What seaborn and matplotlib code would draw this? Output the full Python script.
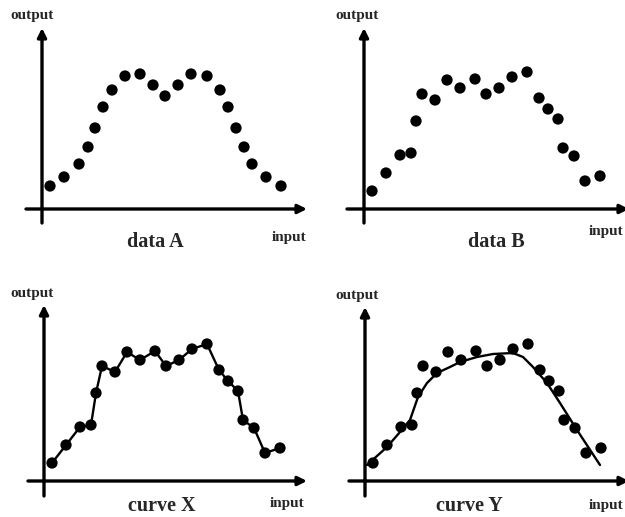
import matplotlib
matplotlib.use("Agg")
import matplotlib.pyplot as plt
import seaborn as sns

# input / output values (axis units = pixels from origin)
input_a = [8, 22, 37, 46, 53, 61, 70, 83, 98, 111, 123, 136, 149, 165, 178, 186, 194, 202, 210, 224, 239]
output_a = [23, 32, 45, 62, 81, 102, 119, 133, 135, 124, 113, 124, 135, 133, 119, 102, 81, 62, 45, 32, 23]

input_b = [8, 22, 36, 47, 52, 58, 71, 83, 96, 111, 122, 135, 148, 163, 175, 184, 194, 199, 210, 221, 236]
output_b = [18, 36, 54, 56, 88, 115, 109, 129, 121, 130, 115, 121, 132, 137, 111, 100, 90, 61, 53, 28, 33]

# smooth fit drawn in "curve Y"
fit_input = [2, 22, 35, 45, 53, 62, 72, 85, 95, 112, 128, 148, 158, 168, 182, 195, 212, 235]
fit_output = [16, 34, 49, 61, 84, 98, 108, 114, 119, 124, 127, 128, 124, 114, 98, 78, 51, 16]

titles = ["data A", "data B", "curve X", "curve Y"]

W, H = 625, 517
FONT = "Liberation Serif"

sns.set_theme(style="white")
plt.rcParams["font.family"] = [FONT, "DejaVu Serif"]

fig = plt.figure(figsize=(W / 100, H / 100), dpi=100)


def make_panel(ox, oy, xl, xr, yt, yb):
    # axes box in figure pixels, data units = pixels from the origin
    ax = fig.add_axes([xl / W, 1 - yb / H, (xr - xl) / W, (yb - yt) / H])
    ax.set_xlim(xl - ox, xr - ox)
    ax.set_ylim(oy - yb, oy - yt)
    arrow = dict(arrowstyle="-|>", lw=2.4, color="black", mutation_scale=13,
                 shrinkA=0, shrinkB=0)
    ax.annotate("", xy=(xr - ox, 0), xytext=(xl - ox, 0), arrowprops=arrow,
                annotation_clip=False)
    ax.annotate("", xy=(0, oy - yt), xytext=(0, oy - yb), arrowprops=arrow,
                annotation_clip=False)
    return ax


def label(x, y, s, size, weight="bold", ha="center"):
    fig.text(x / W, 1 - y / H, s, fontsize=size, fontweight=weight,
             ha=ha, va="center", family=[FONT, "DejaVu Serif"])


dot = dict(color="black", s=66, edgecolor="none", zorder=3)

# data A
ax = make_panel(42, 209, 26, 307, 28, 223)
sns.scatterplot(x=input_a, y=output_a, ax=ax, **dot)
ax.set_axis_off()

# data B
ax = make_panel(364, 209, 347, 629, 28, 223)
sns.scatterplot(x=input_b, y=output_b, ax=ax, **dot)
ax.set_axis_off()

# curve X: join the dots
ax = make_panel(44, 481, 28, 307, 305, 496)
sns.lineplot(x=input_b, y=output_b, ax=ax, sort=False, color="black", lw=1.7)
sns.scatterplot(x=input_b, y=output_b, ax=ax, **dot)
ax.set_axis_off()

# curve Y: smooth fit through the dots
ax = make_panel(365, 481, 349, 629, 307, 496)
sns.lineplot(x=fit_input, y=fit_output, ax=ax, sort=False, color="black", lw=1.7)
sns.scatterplot(x=input_b, y=output_b, ax=ax, **dot)
ax.set_axis_off()

# text
for x, y in [(10, 16), (335, 16), (10, 293), (335, 295)]:
    label(x, y, "output", 11, ha="left")
for x, y in [(272, 237), (589, 231), (270, 503), (589, 505)]:
    label(x, y, "input", 11, ha="left")
for (x, y), t in zip([(155, 242), (496, 242), (162, 506), (469, 506)], titles):
    label(x, y, t, 14.5)

fig.savefig("out.png", dpi=100)
